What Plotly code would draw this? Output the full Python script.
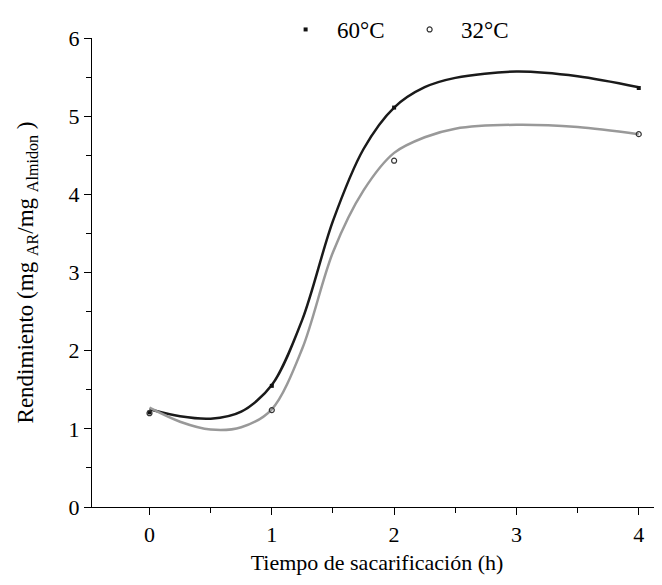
import plotly.graph_objects as go

# Measured points
x_pts = [0, 1, 2, 4]
y60_pts = [1.21, 1.55, 5.11, 5.36]
y32_pts = [1.20, 1.24, 4.43, 4.77]

# Fitted curves
x_fit = [0, 0.25, 0.5, 0.75, 1.0, 1.25, 1.5, 1.75, 2.0, 2.25, 2.5, 3.0, 3.5, 4.0]
y60_fit = [1.25, 1.16, 1.13, 1.22, 1.56, 2.40, 3.66, 4.58, 5.11, 5.37, 5.49, 5.57, 5.51, 5.37]
y32_fit = [1.27, 1.09, 0.99, 1.02, 1.25, 2.03, 3.26, 4.05, 4.53, 4.73, 4.84, 4.89, 4.86, 4.77]

x_ticks = [0, 1, 2, 3, 4]
y_ticks = [0, 1, 2, 3, 4, 5, 6]

FONT = "Liberation Serif, Times New Roman, serif"

fig = go.Figure()
fig.add_trace(go.Scatter(x=x_fit, y=y60_fit, mode="lines", line=dict(color="#1a1a1a", width=2.5, shape="spline", smoothing=0.9), showlegend=False, hoverinfo="skip"))
fig.add_trace(go.Scatter(x=x_fit, y=y32_fit, mode="lines", line=dict(color="#999999", width=2.5, shape="spline", smoothing=0.9), showlegend=False, hoverinfo="skip"))
fig.add_trace(go.Scatter(x=x_pts, y=y60_pts, mode="markers", name="60°C",
                         marker=dict(symbol="square", size=4, color="#111111")))
fig.add_trace(go.Scatter(x=x_pts, y=y32_pts, mode="markers", name="32°C",
                         marker=dict(symbol="circle-open", size=5, color="#333333", line=dict(width=1.2))))

axis_common = dict(
    showline=True, linecolor="black", linewidth=1.3, mirror=False,
    showgrid=False, zeroline=False, automargin=False,
    ticks="outside", ticklen=7, tickwidth=1.3, tickcolor="black",
    tickfont=dict(family=FONT, size=22, color="black"),
)

fig.update_xaxes(range=[-0.47, 4.19], tickvals=x_ticks, ticktext=[str(v) for v in x_ticks],
                 minor=dict(ticks="outside", dtick=0.5, tick0=0, ticklen=5, tickwidth=1.3, tickcolor="black"),
                 title=dict(text="Tiempo de sacarificación (h)", font=dict(family=FONT, size=22, color="black"), standoff=9),
                 **axis_common)
fig.update_yaxes(range=[0, 6], tickvals=y_ticks, ticktext=[str(v) for v in y_ticks],
                 minor=dict(ticks="outside", dtick=0.5, tick0=0, ticklen=5, tickwidth=1.3, tickcolor="black"),
                 title=dict(text="Rendimiento (mg <sub>AR</sub>/mg <sub>Almidon</sub> )", font=dict(family=FONT, size=23, color="black"), standoff=28),
                 **axis_common)

fig.update_layout(
    width=662, height=585,
    margin=dict(l=84, r=8, t=30, b=86, autoexpand=False),
    paper_bgcolor="white", plot_bgcolor="white",
    showlegend=True,
    legend=dict(orientation="h", x=0.3195, y=1.0, yref="container", xanchor="left", yanchor="top",
                font=dict(family=FONT, size=23, color="black"), bgcolor="rgba(0,0,0,0)",
                borderwidth=0, tracegroupgap=0, itemwidth=53, entrywidth=56, entrywidthmode="pixels"),
)

fig.write_html("out.html")
